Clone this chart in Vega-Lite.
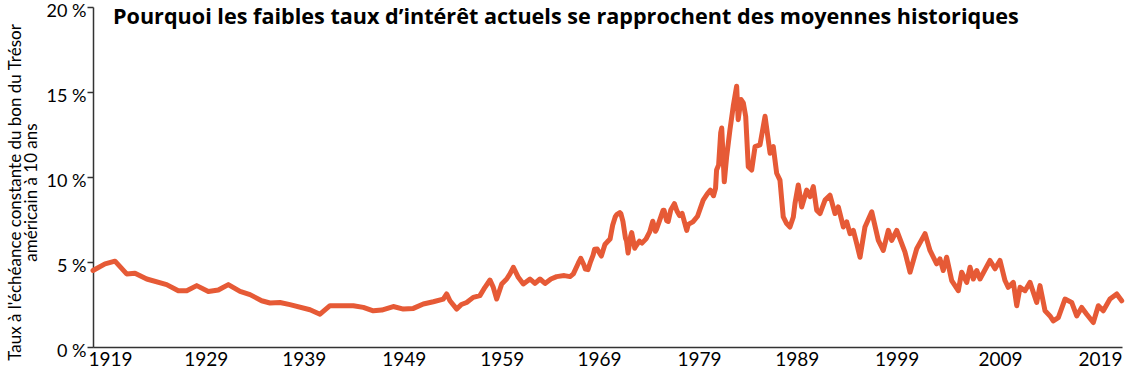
{
  "$schema": "https://vega.github.io/schema/vega-lite/v6.json",
  "width": 1029,
  "height": 340,
  "autosize": {"type": "none"},
  "padding": {"left": 93, "top": 7, "right": 3, "bottom": 29},
  "background": "white",
  "config": {"view": {"stroke": null}, "font": "Lato"},
  "title": {
    "text": "Pourquoi les faibles taux d’intérêt actuels se rapprochent des moyennes historiques",
    "anchor": "start",
    "frame": "group",
    "orient": "top",
    "baseline": "alphabetic",
    "offset": 0,
    "dx": 20,
    "dy": 44,
    "font": "Open Sans",
    "fontSize": 21.6,
    "fontWeight": "bold",
    "color": "#000000"
  },
  "data": {
    "values": [
      {"year": 1919.2, "rate": 4.5}, {"year": 1920.37, "rate": 4.89}, {"year": 1921.34, "rate": 5.05},
      {"year": 1922.47, "rate": 4.3}, {"year": 1923.28, "rate": 4.34}, {"year": 1924.42, "rate": 4.0},
      {"year": 1926.36, "rate": 3.67}, {"year": 1927.49, "rate": 3.31}, {"year": 1928.31, "rate": 3.31},
      {"year": 1929.28, "rate": 3.61}, {"year": 1930.41, "rate": 3.27}, {"year": 1931.38, "rate": 3.35},
      {"year": 1932.35, "rate": 3.67}, {"year": 1933.49, "rate": 3.27}, {"year": 1934.46, "rate": 3.08},
      {"year": 1935.59, "rate": 2.72}, {"year": 1936.4, "rate": 2.59}, {"year": 1937.37, "rate": 2.62},
      {"year": 1938.34, "rate": 2.49}, {"year": 1940.29, "rate": 2.19}, {"year": 1941.26, "rate": 1.93},
      {"year": 1942.23, "rate": 2.43}, {"year": 1944.5, "rate": 2.43}, {"year": 1945.47, "rate": 2.33},
      {"year": 1946.44, "rate": 2.13}, {"year": 1947.26, "rate": 2.17}, {"year": 1948.38, "rate": 2.38},
      {"year": 1949.36, "rate": 2.23}, {"year": 1950.33, "rate": 2.27}, {"year": 1951.3, "rate": 2.53},
      {"year": 1952.27, "rate": 2.66}, {"year": 1953.24, "rate": 2.82}, {"year": 1953.57, "rate": 3.12},
      {"year": 1953.89, "rate": 2.72}, {"year": 1954.55, "rate": 2.23}, {"year": 1955.0, "rate": 2.5},
      {"year": 1955.51, "rate": 2.62}, {"year": 1956.15, "rate": 2.92}, {"year": 1956.8, "rate": 3.02},
      {"year": 1957.29, "rate": 3.51}, {"year": 1957.78, "rate": 3.94}, {"year": 1958.1, "rate": 3.51},
      {"year": 1958.43, "rate": 2.82}, {"year": 1958.92, "rate": 3.71}, {"year": 1959.4, "rate": 4.0},
      {"year": 1959.72, "rate": 4.3}, {"year": 1960.05, "rate": 4.69}, {"year": 1960.53, "rate": 4.1},
      {"year": 1961.02, "rate": 3.71}, {"year": 1961.67, "rate": 4.0}, {"year": 1962.15, "rate": 3.74},
      {"year": 1962.64, "rate": 4.0}, {"year": 1963.13, "rate": 3.74}, {"year": 1963.7, "rate": 4.0},
      {"year": 1964.26, "rate": 4.14}, {"year": 1965.0, "rate": 4.2}, {"year": 1965.56, "rate": 4.14},
      {"year": 1965.88, "rate": 4.3}, {"year": 1966.36, "rate": 4.93}, {"year": 1966.6, "rate": 5.22},
      {"year": 1966.9, "rate": 4.84}, {"year": 1967.05, "rate": 4.58}, {"year": 1967.3, "rate": 4.55},
      {"year": 1967.55, "rate": 5.01}, {"year": 1967.8, "rate": 5.4}, {"year": 1967.95, "rate": 5.75},
      {"year": 1968.2, "rate": 5.76}, {"year": 1968.45, "rate": 5.5}, {"year": 1968.6, "rate": 5.35},
      {"year": 1968.95, "rate": 6.03}, {"year": 1969.2, "rate": 6.2}, {"year": 1969.45, "rate": 6.35},
      {"year": 1969.7, "rate": 7.16}, {"year": 1969.95, "rate": 7.65}, {"year": 1970.1, "rate": 7.79},
      {"year": 1970.4, "rate": 7.91}, {"year": 1970.5, "rate": 7.84}, {"year": 1970.7, "rate": 7.39},
      {"year": 1970.95, "rate": 6.39}, {"year": 1971.05, "rate": 6.24}, {"year": 1971.2, "rate": 5.53},
      {"year": 1971.45, "rate": 6.52}, {"year": 1971.55, "rate": 6.73}, {"year": 1971.85, "rate": 5.81},
      {"year": 1971.95, "rate": 5.93}, {"year": 1972.3, "rate": 6.23}, {"year": 1972.55, "rate": 6.11},
      {"year": 1972.95, "rate": 6.36}, {"year": 1973.3, "rate": 6.77}, {"year": 1973.6, "rate": 7.4},
      {"year": 1973.85, "rate": 6.81}, {"year": 1973.95, "rate": 6.9}, {"year": 1974.3, "rate": 7.51},
      {"year": 1974.6, "rate": 8.04}, {"year": 1974.7, "rate": 8.04}, {"year": 1974.95, "rate": 7.43},
      {"year": 1975.1, "rate": 7.39}, {"year": 1975.35, "rate": 8.06}, {"year": 1975.7, "rate": 8.43},
      {"year": 1975.95, "rate": 8.0}, {"year": 1976.2, "rate": 7.73}, {"year": 1976.45, "rate": 7.86},
      {"year": 1976.9, "rate": 6.86}, {"year": 1977.05, "rate": 7.21}, {"year": 1977.5, "rate": 7.36},
      {"year": 1977.95, "rate": 7.69}, {"year": 1978.5, "rate": 8.64}, {"year": 1978.9, "rate": 9.01},
      {"year": 1979.2, "rate": 9.23}, {"year": 1979.5, "rate": 8.9}, {"year": 1979.7, "rate": 9.33},
      {"year": 1979.8, "rate": 10.41}, {"year": 1980.0, "rate": 10.71}, {"year": 1980.2, "rate": 12.6},
      {"year": 1980.3, "rate": 12.88}, {"year": 1980.55, "rate": 9.72}, {"year": 1980.78, "rate": 11.2},
      {"year": 1981.1, "rate": 12.78}, {"year": 1981.42, "rate": 14.16}, {"year": 1981.75, "rate": 15.34},
      {"year": 1981.9, "rate": 13.37}, {"year": 1982.17, "rate": 14.56}, {"year": 1982.4, "rate": 14.36},
      {"year": 1982.63, "rate": 13.57}, {"year": 1982.88, "rate": 10.61}, {"year": 1983.21, "rate": 10.41},
      {"year": 1983.54, "rate": 11.79}, {"year": 1984.02, "rate": 11.89}, {"year": 1984.51, "rate": 13.57},
      {"year": 1985.0, "rate": 11.4}, {"year": 1985.31, "rate": 11.79}, {"year": 1985.64, "rate": 10.22},
      {"year": 1985.96, "rate": 9.82}, {"year": 1986.28, "rate": 7.65}, {"year": 1986.61, "rate": 7.26},
      {"year": 1986.93, "rate": 7.06}, {"year": 1987.26, "rate": 7.65}, {"year": 1987.42, "rate": 8.44},
      {"year": 1987.74, "rate": 9.53}, {"year": 1988.07, "rate": 8.24}, {"year": 1988.56, "rate": 9.23},
      {"year": 1988.88, "rate": 8.84}, {"year": 1989.2, "rate": 9.43}, {"year": 1989.53, "rate": 8.05},
      {"year": 1989.85, "rate": 7.85}, {"year": 1990.34, "rate": 8.64}, {"year": 1990.82, "rate": 8.93},
      {"year": 1991.31, "rate": 7.85}, {"year": 1991.63, "rate": 8.24}, {"year": 1992.12, "rate": 7.06},
      {"year": 1992.45, "rate": 7.36}, {"year": 1992.77, "rate": 6.67}, {"year": 1993.09, "rate": 6.86},
      {"year": 1993.42, "rate": 6.08}, {"year": 1993.74, "rate": 5.28}, {"year": 1994.22, "rate": 7.06},
      {"year": 1994.88, "rate": 7.95}, {"year": 1995.52, "rate": 6.27}, {"year": 1996.0, "rate": 5.68},
      {"year": 1996.49, "rate": 6.86}, {"year": 1996.82, "rate": 6.27}, {"year": 1997.31, "rate": 6.86},
      {"year": 1998.11, "rate": 5.58}, {"year": 1998.6, "rate": 4.4}, {"year": 1999.25, "rate": 5.78},
      {"year": 2000.06, "rate": 6.67}, {"year": 2000.54, "rate": 5.68}, {"year": 2001.19, "rate": 4.89},
      {"year": 2001.51, "rate": 5.18}, {"year": 2001.83, "rate": 4.5}, {"year": 2002.16, "rate": 5.28},
      {"year": 2002.65, "rate": 3.91}, {"year": 2003.29, "rate": 3.31}, {"year": 2003.62, "rate": 4.4},
      {"year": 2004.11, "rate": 3.8}, {"year": 2004.43, "rate": 4.69}, {"year": 2004.75, "rate": 4.0},
      {"year": 2005.08, "rate": 4.5}, {"year": 2005.4, "rate": 4.0}, {"year": 2006.37, "rate": 5.09},
      {"year": 2006.86, "rate": 4.6}, {"year": 2007.34, "rate": 5.09}, {"year": 2007.83, "rate": 3.91},
      {"year": 2008.15, "rate": 3.51}, {"year": 2008.64, "rate": 3.8}, {"year": 2008.97, "rate": 2.43},
      {"year": 2009.29, "rate": 3.51}, {"year": 2009.77, "rate": 3.31}, {"year": 2010.26, "rate": 3.8},
      {"year": 2010.91, "rate": 2.62}, {"year": 2011.23, "rate": 3.61}, {"year": 2011.72, "rate": 2.13},
      {"year": 2012.2, "rate": 1.83}, {"year": 2012.52, "rate": 1.54}, {"year": 2013.01, "rate": 1.73},
      {"year": 2013.66, "rate": 2.82}, {"year": 2014.31, "rate": 2.62}, {"year": 2014.8, "rate": 1.83},
      {"year": 2015.28, "rate": 2.33}, {"year": 2015.77, "rate": 1.93}, {"year": 2016.41, "rate": 1.44},
      {"year": 2016.9, "rate": 2.43}, {"year": 2017.38, "rate": 2.13}, {"year": 2018.03, "rate": 2.82},
      {"year": 2018.69, "rate": 3.12}, {"year": 2019.17, "rate": 2.72}
    ]
  },
  "mark": {"type": "line", "color": "#e65a36", "strokeWidth": 5, "strokeJoin": "round", "strokeCap": "round", "clip": false},
  "encoding": {
    "x": {
      "field": "year",
      "type": "quantitative",
      "scale": {"domain": [1919.2, 2019.2], "nice": false, "zero": false},
      "axis": {
        "title": null,
        "values": [1920.85, 1930.16, 1939.69, 1949.4, 1958.92, 1968.37, 1978.09, 1987.59, 1997.3, 2007.34, 2017.06],
        "labelExpr": "format(round((datum.value - 1920.85) / 9.62) * 10 + 1919, 'd')",
        "ticks": false,
        "grid": false,
        "domainColor": "#333333",
        "domainWidth": 1.5,
        "labelFont": "Lato",
        "labelFontSize": 19,
        "labelColor": "#000000",
        "labelPadding": 3,
        "labelFlush": false,
        "labelOverlap": false
      }
    },
    "y": {
      "field": "rate",
      "type": "quantitative",
      "scale": {"domain": [0, 20], "nice": false},
      "axis": {
        "title": ["Taux à l'échéance constante du bon du Trésor", "américain à 10 ans"],
        "titleFont": "Lato",
        "titleFontSize": 17,
        "titleFontWeight": "normal",
        "titleColor": "#000000",
        "titleLineHeight": 16,
        "titleX": -73,
        "titleY": 185,
        "titleBaseline": "alphabetic",
        "values": [0, 5, 10, 15, 20],
        "labelExpr": "datum.value + ' %'",
        "grid": false,
        "domainColor": "#333333",
        "domainWidth": 1.5,
        "tickColor": "#333333",
        "tickSize": 6,
        "tickWidth": 1.5,
        "labelFont": "Lato",
        "labelFontSize": 18,
        "labelOffset": 4,
        "labelColor": "#000000",
        "labelPadding": 1,
        "labelFlush": false,
        "labelOverlap": false
      }
    }
  }
}
